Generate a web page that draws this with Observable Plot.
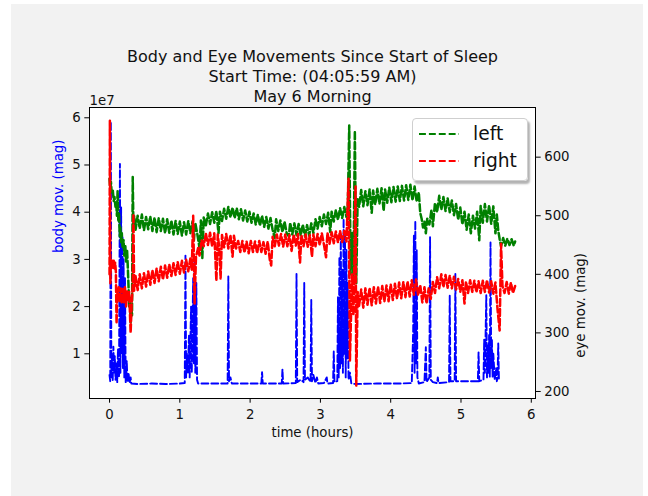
<!DOCTYPE html>
<html>
<head>
<meta charset="utf-8">
<script src="https://cdn.jsdelivr.net/npm/d3@7"></script>
<script src="https://cdn.jsdelivr.net/npm/@observablehq/plot@0.6"></script>
<style>
  html, body { margin: 0; padding: 0; background: #ffffff; }
  #wrap { position: relative; width: 648px; height: 496px; overflow: hidden; font-family: "DejaVu Sans", sans-serif; }
  #bg { position: absolute; left: 11px; top: 4px; width: 632px; height: 492px; background: #f2f2f2; }
  #chart { position: absolute; left: 0; top: 0; }
  #legend { position: absolute; left: 412px; top: 118px; width: 114px; height: 61px; background: rgba(255,255,255,0.9);
            border: 1px solid #cfcfcf; border-radius: 4px; box-shadow: 2px 3px 2px rgba(0,0,0,0.3); }
  .entry { position: absolute; left: 0; height: 20px; }
  .entry span { position: absolute; left: 60px; font-size: 18.7px; color: #111; white-space: nowrap; line-height: 20px; }
  .entry svg { position: absolute; left: 6px; }
</style>
</head>
<body>
<div id="wrap">
  <div id="bg"></div>
  <div id="chart"></div>
  <div id="legend"></div>
</div>
<script>
// ---------------- data ----------------
const titleLines = ["Body and Eye Movements Since Start of Sleep", "Start Time: (04:05:59 AM)", "May 6 Morning"];
const xLabel = "time (hours)";
const leftLabel = "body mov. (mag)";
const rightLabel = "eye mov. (mag)";
const leftOffsetLabel = "1e7";
const xTicks = [0, 1, 2, 3, 4, 5, 6];
const bodyTicks = [1, 2, 3, 4, 5, 6];          // ×1e7
const eyeTicks = [200, 300, 400, 500, 600];
const seriesNames = ["left", "right"];

// body movement (left axis, units of 1e7): [hours, value]
const bodyMov = [
  [0.00,0.55],[0.01,0.42],[0.018,5.92],[0.026,0.5],[0.035,0.9],[0.045,0.42],[0.055,1.15],[0.065,0.6],[0.075,0.95],[0.085,0.45],
  [0.10,0.8],[0.11,0.4],[0.12,1.1],[0.135,0.5],[0.148,5.02],[0.155,0.6],[0.165,4.1],[0.175,1.0],[0.185,3.5],[0.19,0.7],
  [0.20,3.0],[0.21,0.5],[0.22,2.6],[0.23,0.4],[0.245,0.85],[0.255,0.4],[0.27,0.6],[0.285,0.38],[0.30,0.5],[0.31,0.37],
  [0.40,0.36],[0.60,0.37],[0.80,0.36],[1.00,0.37],[1.07,0.38],
  [1.08,3.08],[1.09,0.5],[1.10,1.0],[1.115,0.6],[1.13,1.4],[1.14,0.5],[1.16,2.0],[1.17,0.6],[1.19,2.6],[1.20,0.8],
  [1.21,3.05],[1.22,0.6],[1.235,2.5],[1.245,0.45],[1.26,0.37],
  [1.40,0.37],[1.68,0.37],[1.69,2.64],[1.70,0.42],[1.72,0.5],[1.74,0.37],[2.00,0.37],[2.16,0.37],[2.17,0.61],[2.18,0.37],
  [2.45,0.37],[2.46,0.67],[2.47,0.37],[2.65,0.38],[2.66,2.69],[2.67,0.4],[2.72,0.45],[2.76,0.4],[2.77,2.5],[2.78,0.45],
  [2.82,0.5],[2.86,0.4],[2.87,2.14],[2.88,0.42],[2.90,0.55],[2.93,0.38],[2.95,0.5],[2.97,0.37],[3.05,0.38],[3.09,0.5],
  [3.10,0.37],[3.18,0.38],[3.19,1.05],[3.20,0.4],[3.24,0.42],
  [3.25,2.2],[3.26,0.5],[3.27,3.05],[3.28,0.7],[3.29,3.5],[3.30,0.8],[3.31,2.8],[3.32,0.6],[3.33,3.86],[3.34,1.0],
  [3.35,3.6],[3.36,0.5],[3.37,3.2],[3.38,0.9],[3.39,2.5],[3.40,0.45],[3.42,0.6],[3.44,0.37],
  [3.50,0.36],[3.80,0.37],[4.10,0.37],[4.30,0.38],
  [4.32,1.5],[4.33,3.5],[4.34,0.6],[4.35,3.82],[4.36,0.8],[4.37,3.2],[4.38,0.5],[4.40,0.37],[4.48,0.4],[4.50,1.14],
  [4.51,0.4],[4.55,0.5],[4.56,3.47],[4.57,0.45],[4.60,0.4],[4.66,0.38],[4.67,0.5],[4.68,0.38],[4.83,0.4],[4.84,2.24],
  [4.85,0.42],[4.91,0.42],[4.92,2.69],[4.93,0.42],[5.10,0.42],[5.24,0.42],[5.25,1.03],[5.26,0.42],[5.32,0.45],
  [5.33,1.3],[5.34,0.6],[5.36,2.24],[5.37,0.5],[5.38,1.2],[5.39,0.6],[5.40,1.4],[5.41,0.5],[5.42,3.36],[5.43,0.7],
  [5.44,1.3],[5.45,0.5],[5.46,1.0],[5.48,0.45],[5.50,0.7],[5.51,0.42],[5.52,0.5],[5.53,1.22],[5.54,0.45],[5.55,0.48]
];

// left eye (right axis): [hours, value]
const leftEye = [
  [0,563],[0.01,548],[0.02,558],[0.03,540],[0.045,545],[0.06,525],[0.07,532],[0.085,515],[0.095,522],[0.105,500],
  [0.115,543],[0.125,490],[0.135,505],[0.145,465],[0.155,480],[0.165,455],[0.175,470],[0.185,445],[0.2,458],[0.21,432],
  [0.225,448],[0.235,420],[0.25,440],[0.26,412],[0.27,380],[0.28,345],[0.29,360],[0.3,318],[0.31,345],[0.32,330],
  [0.33,566],[0.34,480],[0.35,500],
  [0.37,476],[0.4,500],[0.43,478],[0.46,502],[0.49,475],[0.52,498],[0.55,477],[0.58,499],[0.61,474],[0.64,497],
  [0.67,472],[0.7,496],[0.73,474],[0.76,495],[0.79,470],[0.82,494],[0.85,471],[0.88,492],[0.91,468],[0.94,491],
  [0.97,469],[1.0,490],[1.03,466],[1.06,489],[1.09,468],[1.12,491],[1.15,470],[1.18,490],[1.2,458],[1.22,488],
  [1.25,468],[1.28,445],[1.3,492],[1.32,428],[1.34,497],
  [1.37,483],[1.4,504],[1.43,486],[1.46,506],[1.49,488],[1.52,508],[1.55,470],[1.57,507],[1.6,491],[1.63,512],
  [1.66,495],[1.69,515],[1.72,497],[1.75,514],[1.78,496],[1.81,513],[1.84,494],[1.87,511],[1.9,492],[1.93,509],
  [1.96,490],[1.99,507],[2.02,488],[2.05,504],[2.08,485],[2.11,502],[2.14,483],[2.17,500],[2.2,481],[2.23,498],
  [2.26,478],[2.29,496],[2.32,476],[2.35,462],[2.37,494],[2.4,474],[2.43,492],[2.46,472],[2.49,490],[2.52,470],
  [2.55,465],[2.57,488],[2.6,468],[2.63,487],[2.66,467],[2.69,486],[2.72,466],[2.75,485],[2.78,465],[2.81,484],
  [2.84,466],[2.87,487],[2.9,470],[2.93,494],[2.96,478],[2.99,498],[3.02,482],[3.05,502],[3.08,486],[3.11,505],
  [3.14,472],[3.16,507],[3.19,490],[3.22,510],[3.25,493],[3.28,513],[3.31,496],[3.34,515],[3.37,498],[3.39,517],
  [3.41,654],[3.43,400],[3.45,470],[3.47,395],[3.49,645],[3.51,385],[3.53,530],[3.55,515],
  [3.58,544],[3.61,516],[3.64,542],[3.67,518],[3.7,545],[3.73,505],[3.75,543],[3.78,519],[3.81,546],[3.84,520],
  [3.87,547],[3.9,508],[3.92,545],[3.95,522],[3.98,548],[4.01,523],[4.04,549],[4.07,524],[4.1,550],[4.13,525],
  [4.16,551],[4.19,526],[4.22,552],[4.25,527],[4.28,553],[4.31,526],[4.34,550],[4.37,524],[4.4,540],[4.42,505],
  [4.44,495],[4.46,480],[4.48,490],[4.5,470],[4.52,495],[4.55,485],[4.58,510],[4.6,482],[4.63,522],[4.66,506],
  [4.69,534],[4.72,510],[4.75,532],[4.78,508],[4.81,530],[4.84,506],[4.87,526],[4.9,501],[4.93,520],[4.96,493],
  [4.99,514],[5.02,485],[5.05,507],[5.08,476],[5.11,502],[5.14,470],[5.17,500],[5.2,478],[5.23,507],[5.26,458],
  [5.28,517],[5.31,488],[5.34,520],[5.37,490],[5.4,518],[5.43,486],[5.46,516],[5.49,470],[5.51,502],[5.53,475],
  [5.55,460],[5.57,448],[5.6,462],[5.63,449],[5.66,461],[5.69,450],[5.72,460],[5.75,449],[5.77,456]
];

// right eye (right axis): [hours, value]
const rightEye = [
  [0,400],[0.005,662],[0.012,384],[0.02,424],[0.03,412],[0.04,425],[0.05,411],[0.06,423],[0.07,410],[0.08,420],
  [0.09,405],[0.1,316],[0.11,370],[0.12,355],[0.13,378],[0.145,352],[0.16,376],[0.175,350],[0.19,375],[0.205,352],
  [0.22,378],[0.235,345],[0.25,372],[0.265,355],[0.28,370],[0.3,300],[0.315,350],[0.33,380],[0.34,503],[0.35,372],
  [0.37,397],[0.4,373],[0.43,400],[0.46,376],[0.49,402],[0.52,379],[0.55,405],[0.58,382],[0.61,407],[0.64,385],
  [0.67,410],[0.7,388],[0.73,413],[0.76,391],[0.79,415],[0.82,394],[0.85,417],[0.88,397],[0.91,419],[0.94,399],
  [0.97,421],[1.0,401],[1.03,423],[1.06,403],[1.09,425],[1.12,405],[1.15,427],[1.17,408],[1.19,500],[1.21,350],
  [1.23,430],[1.26,445],[1.28,432],[1.31,458],[1.34,448],[1.37,470],[1.4,450],[1.43,471],[1.46,448],[1.49,470],
  [1.52,389],[1.54,468],[1.56,446],[1.58,393],[1.6,467],[1.63,446],[1.66,469],[1.69,444],[1.72,467],[1.75,430],
  [1.77,466],[1.8,444],[1.83,457],[1.86,438],[1.89,457],[1.92,437],[1.95,456],[1.98,436],[2.01,457],[2.04,438],
  [2.07,456],[2.1,436],[2.13,457],[2.16,438],[2.19,455],[2.22,435],[2.25,456],[2.28,425],[2.3,415],[2.32,464],
  [2.35,448],[2.38,468],[2.41,449],[2.44,469],[2.47,447],[2.5,468],[2.53,448],[2.56,467],[2.59,440],[2.62,468],
  [2.65,449],[2.68,469],[2.71,420],[2.73,467],[2.76,448],[2.79,468],[2.82,447],[2.85,467],[2.88,430],[2.9,468],
  [2.93,448],[2.96,469],[2.99,450],[3.02,470],[3.05,451],[3.08,429],[3.1,471],[3.13,452],[3.16,472],[3.19,453],
  [3.22,473],[3.25,454],[3.28,474],[3.31,455],[3.34,474],[3.37,456],[3.4,563],[3.42,253],[3.45,400],[3.47,330],
  [3.5,551],[3.51,210],[3.53,370],[3.55,346],[3.58,374],[3.61,343],[3.64,376],[3.67,348],[3.7,377],[3.73,347],
  [3.76,378],[3.79,350],[3.82,379],[3.85,351],[3.88,380],[3.91,353],[3.94,381],[3.97,354],[4.0,383],[4.03,356],
  [4.06,384],[4.09,358],[4.12,386],[4.15,359],[4.18,387],[4.21,361],[4.24,388],[4.27,362],[4.3,390],[4.33,365],
  [4.36,391],[4.39,364],[4.42,382],[4.45,352],[4.48,378],[4.51,350],[4.54,376],[4.57,358],[4.6,387],[4.63,368],
  [4.66,395],[4.69,376],[4.72,400],[4.75,378],[4.78,399],[4.81,377],[4.84,398],[4.87,376],[4.9,396],[4.93,374],
  [4.96,392],[4.99,370],[5.02,390],[5.05,350],[5.07,388],[5.1,368],[5.13,390],[5.16,370],[5.19,389],[5.22,369],
  [5.25,388],[5.28,368],[5.31,389],[5.34,370],[5.37,390],[5.4,369],[5.43,388],[5.46,367],[5.49,386],[5.52,340],
  [5.55,304],[5.57,452],[5.59,380],[5.62,368],[5.65,387],[5.68,367],[5.71,386],[5.74,368],[5.77,380]
];

// ---------------- scales & chart ----------------
const X_DOMAIN = [-0.285, 6.06];
const BODY_DOMAIN = [0.053, 6.218];
const EYE_DOMAIN = [188, 684.8];
const toBody = e => BODY_DOMAIN[0] + (e - EYE_DOMAIN[0]) / (EYE_DOMAIN[1] - EYE_DOMAIN[0]) * (BODY_DOMAIN[1] - BODY_DOMAIN[0]);
const toEye = b => EYE_DOMAIN[0] + (b - BODY_DOMAIN[0]) / (BODY_DOMAIN[1] - BODY_DOMAIN[0]) * (EYE_DOMAIN[1] - EYE_DOMAIN[0]);

const colors = { body: "#0000ff", left: "#008000", right: "#ff0000" };
const dash = "6.9,3";
const lw = 1.9;
const bandW = 2.5;
const FS = 13.3;
const TS = 4.7;

const chart = Plot.plot({
  width: 648, height: 496,
  marginLeft: 89, marginRight: 113, marginTop: 107, marginBottom: 98,
  x: { domain: X_DOMAIN, axis: null },
  y: { domain: BODY_DOMAIN, axis: null },
  style: { background: "transparent", fontFamily: "DejaVu Sans, sans-serif", color: "#111" },
  marks: [
    Plot.frame({ fill: "white", stroke: null }),
    Plot.line(bodyMov, { x: d => d[0], y: d => d[1], stroke: colors.body, strokeWidth: lw, strokeDasharray: dash }),
    Plot.line(leftEye, { x: d => d[0], y: d => toBody(d[1]), stroke: colors.left, strokeWidth: bandW, strokeDasharray: dash }),
    Plot.line(rightEye, { x: d => d[0], y: d => toBody(d[1]), stroke: colors.right, strokeWidth: bandW, strokeDasharray: dash }),
    Plot.frame({ stroke: "#000", strokeWidth: 1 }),
    Plot.axisX(xTicks, { anchor: "bottom", tickSize: TS, tickPadding: 6, fontSize: FS, label: null, tickFormat: d => String(d), stroke: "#000", fill: "#111" }),
    Plot.axisY(bodyTicks, { anchor: "left", tickSize: TS, tickPadding: 4, fontSize: FS, label: null, tickFormat: d => String(d), stroke: "#000", fill: "#111" }),
    Plot.axisY(eyeTicks.map(toBody), { anchor: "right", tickSize: TS, tickPadding: 4, fontSize: FS, label: null, tickFormat: d => String(Math.round(toEye(d))), stroke: "#000", fill: "#111" }),
    Plot.text([xLabel], { frameAnchor: "bottom", dy: 38, fontSize: FS, fill: "#111" }),
    Plot.text([leftLabel], { frameAnchor: "left", dx: -31, rotate: -90, fontSize: FS, fill: colors.body }),
    Plot.text([rightLabel], { frameAnchor: "right", dx: 45, rotate: -90, fontSize: FS, fill: "#111" }),
    Plot.text([leftOffsetLabel], { frameAnchor: "top-left", dy: -12, textAnchor: "start", fontSize: FS, fill: "#111" }),
    Plot.text([titleLines[0]], { frameAnchor: "top", dy: -57, fontSize: 16, fill: "#111" }),
    Plot.text([titleLines[1]], { frameAnchor: "top", dy: -37, fontSize: 16, fill: "#111" }),
    Plot.text([titleLines[2]], { frameAnchor: "top", dy: -17, fontSize: 16, fill: "#111" })
  ]
});
document.getElementById("chart").appendChild(chart);

// legend
const legend = document.getElementById("legend");
[["left", colors.left, 5], ["right", colors.right, 32]].forEach(([name, c, top]) => {
  const e = document.createElement("div");
  e.className = "entry";
  e.style.top = top + "px";
  e.innerHTML = `<svg width="42" height="20"><line x1="0" x2="40" y1="10" y2="10" stroke="${c}" stroke-width="${lw}" stroke-dasharray="${dash}"/></svg><span>${name}</span>`;
  legend.appendChild(e);
});
</script>
</body>
</html>
